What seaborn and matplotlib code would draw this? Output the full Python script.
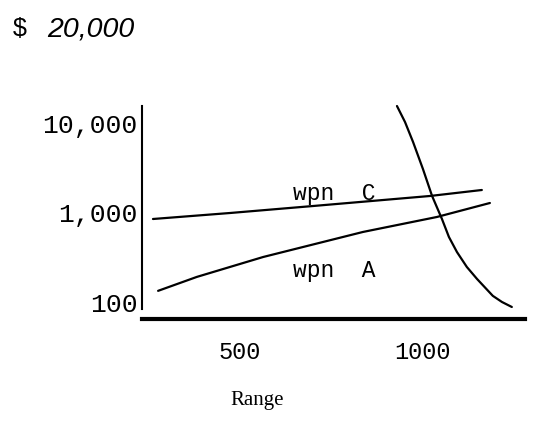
import numpy as np
import pandas as pd
import matplotlib.pyplot as plt
import seaborn as sns

# ----------------------------
# DATA
# ----------------------------
wpn_c_range = [262, 473, 700, 1019, 1161]
wpn_c_cost = [836, 975, 1166, 1506, 1756]

wpn_a_range = [276, 382, 563, 836, 1038, 1183]
wpn_a_cost = [133, 190, 316, 600, 880, 1259]

budget_range = [929, 951, 973, 1000, 1025, 1052, 1071, 1093, 1120, 1148, 1191, 1216, 1243]
budget_cost = [15060, 10000, 5995, 3005, 1506, 836, 528, 359, 245, 180, 117, 100, 88]

y_ticks = [100, 1000, 10000]
y_labels = ["100", "1,000", "10,000"]
x_ticks = [500, 1000]
x_labels = ["500", "1000"]

sns.set_style("white")
plt.rcParams["text.color"] = "black"

fig = plt.figure(figsize=(5.4, 4.39), dpi=100)
ax = fig.add_axes([142 / 540, 119 / 439, 383 / 540, 220 / 439])

sns.lineplot(x=wpn_c_range, y=wpn_c_cost, color="black", lw=1.6, ax=ax)
sns.lineplot(x=wpn_a_range, y=wpn_a_cost, color="black", lw=1.6, ax=ax)
sns.lineplot(x=budget_range, y=budget_cost, color="black", lw=1.6, ax=ax, sort=False)

ax.set_yscale("log")
ax.set_xlim(232, 1279)
ax.set_ylim(64.7, 18020)

ax.set_yticks(y_ticks)
ax.set_yticklabels(y_labels, family="Liberation Mono", fontsize=19)
ax.set_xticks(x_ticks)
ax.set_xticklabels(x_labels, family="Liberation Mono", fontsize=17)
ax.minorticks_off()
ax.tick_params(axis="both", length=0, colors="black")
ax.tick_params(axis="y", pad=3)
ax.tick_params(axis="x", pad=15)

for s in ["top", "right"]:
    ax.spines[s].set_visible(False)
ax.spines["left"].set_color("black")
ax.spines["left"].set_linewidth(1.5)
ax.spines["left"].set_bounds(84, 15000)
ax.spines["bottom"].set_color("black")
ax.spines["bottom"].set_linewidth(3)

ax.text(645, 1394, "wpn  C", family="Liberation Mono", fontsize=16.5,
        ha="left", va="baseline", color="black")
ax.text(645, 194, "wpn  A", family="Liberation Mono", fontsize=16.5,
        ha="left", va="baseline", color="black")
ax.set_xlabel("")
ax.set_ylabel("")

fig.text(13 / 540, 1 - 29 / 439, "$", family="Liberation Sans", fontsize=18,
         ha="left", va="center", color="black")
fig.text(47 / 540, 1 - 29 / 439, "20,000", family="Liberation Sans",
         style="italic", fontsize=20.5, ha="left", va="center", color="black")
fig.text(257 / 540, 1 - 401 / 439, "Range", family="Liberation Serif",
         fontsize=15, ha="center", va="center", color="black")

fig.savefig("out.png", dpi=100, facecolor="white")
